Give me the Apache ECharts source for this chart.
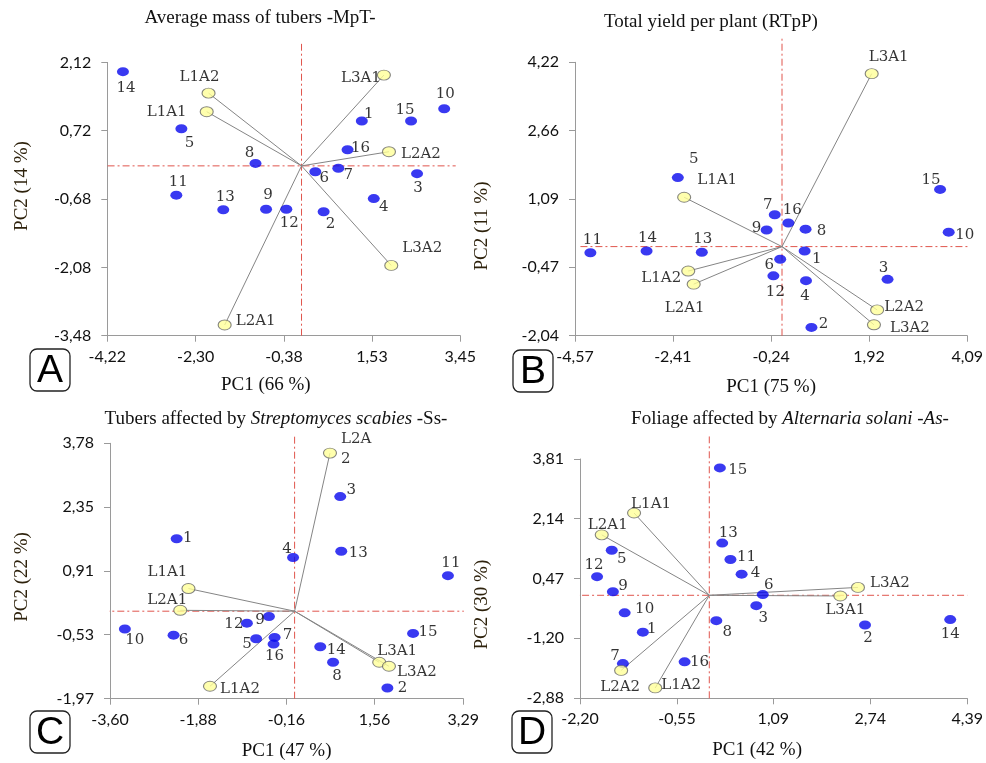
<!DOCTYPE html>
<html><head><meta charset="utf-8">
<script src="https://cdn.jsdelivr.net/npm/echarts@6/dist/echarts.min.js"></script>
<style>html,body{margin:0;padding:0;background:#fff}#c{width:986px;height:763px}</style>
</head><body><div id="c"></div>
<script>
// ---------- DATA ----------
const genotypes = ['1','2','3','4','5','6','7','8','9','10','11','12','13','14','15','16'];
const variables = ['L1A1','L1A2','L2A1','L2A2','L3A1','L3A2'];

// Panel A - Average mass of tubers
const xTicksA = ['-4,22','-2,30','-0,38','1,53','3,45'];
const yTicksA = ['2,12','0,72','-0,68','-2,08','-3,48'];
const pc1A = [1.31,0.48,2.51,1.57,-2.61,0.30,0.80,-1.00,-0.77,3.10,-2.72,-0.33,-1.70,-3.88,2.38,1.00];
const pc2A = [0.92,-0.94,-0.16,-0.67,0.76,-0.12,-0.05,0.05,-0.89,1.17,-0.60,-0.89,-0.90,1.93,0.92,0.33];
const vecXA = [-2.06,-2.02,-1.67,1.90,1.79,1.95];
const vecYA = [1.11,1.49,-3.26,0.29,1.86,-2.04];

// Panel B - Total yield per plant
const xTicksB = ['-4,57','-2,41','-0,24','1,92','4,09'];
const yTicksB = ['4,22','2,66','1,09','-0,47','-2,04'];
const pc1B = [0.50,0.65,2.33,0.53,-2.30,-0.04,-0.16,0.52,-0.34,3.68,-4.23,-0.19,-1.77,-2.99,3.49,0.14];
const pc2B = [-0.10,-1.85,-0.75,-0.78,1.58,-0.29,0.73,0.40,0.38,0.33,-0.14,-0.67,-0.13,-0.10,1.31,0.54];
const vecXB = [-2.16,-2.07,-1.95,2.10,1.98,2.03];
const vecYB = [1.13,-0.56,-0.86,-1.45,3.96,-1.79];

// Panel C - Streptomyces scabies
const xTicksC = ['-3,60','-1,88','-0,16','1,56','3,29'];
const yTicksC = ['3,78','2,35','0,91','-0,53','-1,97'];
const pc1C = [-2.30,1.81,0.89,-0.03,-0.75,-2.36,-0.39,0.75,-0.50,-3.31,2.99,-0.93,0.91,0.50,2.31,-0.41];
const pc2C = [1.63,-1.73,2.58,1.21,-0.62,-0.54,-0.59,-1.15,-0.12,-0.40,0.80,-0.27,1.35,-0.80,-0.50,-0.74];
const vecXC = [-2.07,-1.65,-2.23,0.69,1.65,1.84];
const vecYC = [0.51,-1.69,0.02,3.56,-1.15,-1.24];

// Panel D - Alternaria solani
const xTicksD = ['-2,20','-0,55','1,09','2,74','4,39'];
const yTicksD = ['3,81','2,14','0,47','-1,20','-2,88'];
const pc1D = [-1.13,2.65,0.80,0.55,-1.66,0.91,-1.47,0.12,-1.64,-1.44,0.36,-1.91,0.22,4.10,0.18,-0.42];
const pc2D = [-1.03,-0.83,-0.29,0.59,1.26,0.02,-1.91,-0.71,0.10,-0.49,1.00,0.52,1.46,-0.68,3.56,-1.86];
const vecXD = [-1.28,-0.92,-1.83,-1.50,2.23,2.53];
const vecYD = [2.30,-2.59,1.69,-2.10,-0.02,0.22];

// ---------- STYLE / LAYOUT ----------
const labelOffsets = [
 {'1':[7,-7],'2':[7,12],'3':[1,14],'4':[10,9],'5':[8,14],'6':[9,6],'7':[10,7],'8':[-6,-10],'9':[2,-14],'10':[1,-15],'11':[2,-13],'12':[3,14],'13':[2,-13],'14':[3,16],'15':[-6,-11],'16':[13,-2],'L1A1':[-40,0],'L1A2':[-9,-16],'L2A1':[31,-4],'L2A2':[32,2],'L3A1':[-23,3],'L3A2':[31,-17]},
 {'1':[12,8],'2':[12,-3],'3':[-4,-11],'4':[-1,15],'5':[16,-18],'6':[-11,6],'7':[-7,-10],'8':[16,2],'9':[-10,-2],'10':[16,3],'11':[2,-13],'12':[2,16],'13':[1,-13],'14':[1,-13],'15':[-9,-9],'16':[4,-13],'L1A1':[33,-17],'L1A2':[-27,7],'L2A1':[-9,24],'L2A2':[27,-3],'L3A1':[17,-17],'L3A2':[36,3]},
 {'1':[11,-1],'2':[15,0],'3':[11,-6],'4':[-6,-8],'5':[-9,5],'6':[10,5],'7':[13,-2],'8':[4,14],'9':[-9,4],'10':[10,11],'11':[3,-13],'12':[-13,1],'13':[17,2],'14':[16,3],'15':[15,-1],'16':[1,12],'L1A1':[-21,-16],'L1A2':[30,3],'L2A1':[-13,-10],'L2A2':[11,-4],'L3A1':[18,-11],'L3A2':[28,6]},
 {'1':[9,-3],'2':[3,13],'3':[7,12],'4':[14,-1],'5':[10,9],'6':[6,-9],'7':[-8,-7],'8':[11,11],'9':[10,-6],'10':[20,-4],'11':[16,-2],'12':[-3,-12],'13':[6,-10],'14':[0,15],'15':[18,2],'16':[15,0],'L1A1':[17,-9],'L1A2':[26,-3],'L2A1':[6,-10],'L2A2':[-1,17],'L3A1':[5,14],'L3A2':[32,-4]}
];
const labelOverrides = [{}, {}, {'L2A2': {formatter:'L2A\n2', align:'left', lineHeight:20}}, {}];

const panels = [
 {letter:'A', title:'{n|Average mass of tubers -MpT-}', titlePos:[260,18],
  grid:{left:107.3, top:62.4, width:353, height:273.3},
  xT:xTicksA, yT:yTicksA, pc1:pc1A, pc2:pc2A, vx:vecXA, vy:vecYA,
  xName:'PC1 (66 %)', yName:'PC2 (14 %)', xGap:40, xPad:[0,36,0,0], yGap:76, yPad:[0,0,0,26],
  refH:[-4.54,3.35], refV:[-3.48,2.50], box:[30,349]},
 {letter:'B', title:'{n|Total yield per plant (RTpP)}', titlePos:[711,22],
  grid:{left:575, top:62.3, width:397.3, height:273.4},
  xT:xTicksB, yT:yTicksB, pc1:pc1B, pc2:pc2B, vx:vecXB, vy:vecYB,
  xName:'PC1 (75 %)', yName:'PC2 (11 %)', xGap:42, xPad:[0,0,0,0], yGap:83, yPad:[0,54,0,0],
  refH:[-4.45,4.20], refV:[-2.04,4.78], box:[513,350]},
 {letter:'C', title:'{n|Tubers affected by }{i|Streptomyces scabies}{n| -Ss-}', titlePos:[276,419],
  grid:{left:110, top:443.3, width:353.3, height:255.4},
  xT:xTicksC, yT:yTicksC, pc1:pc1C, pc2:pc2C, vx:vecXC, vy:vecYC,
  xName:'PC1 (47 %)', yName:'PC2 (22 %)', xGap:43, xPad:[0,0,0,0], yGap:78, yPad:[0,12,0,0],
  refH:[-3.75,3.30], refV:[-1.97,3.95], box:[30,711]},
 {letter:'D', title:'{n|Foliage affected by }{i|Alternaria solani -As-}', titlePos:[790,419],
  grid:{left:580, top:459, width:388.3, height:239.3},
  xT:xTicksD, yT:yTicksD, pc1:pc1D, pc2:pc2D, vx:vecXD, vy:vecYD,
  xName:'PC1 (42 %)', yName:'PC2 (30 %)', xGap:42, xPad:[0,33,0,0], yGap:88, yPad:[0,52,0,0],
  refH:[-2.42,4.39], refV:[-2.88,4.44], box:[512,711]}
];

const toNum = s => parseFloat(s.replace(',', '.'));
const AXIS_GRAY = '#9a9a9a';
const SERIF = '"Liberation Serif", "Times New Roman", serif';
const LABEL_SERIF = '"DejaVu Serif", serif';
const SANS = 'Lato, "Open Sans", sans-serif';

function fmt(labels) {
  const vals = labels.map(toNum);
  return v => { let bi = 0, bd = Infinity; vals.forEach((x,i)=>{const d=Math.abs(x-v); if(d<bd){bd=d;bi=i;}}); return labels[bi]; };
}

const option = {animation:false, backgroundColor:'#fff', grid:[], xAxis:[], yAxis:[], series:[], graphic:[]};

panels.forEach((p, i) => {
  option.grid.push(Object.assign({containLabel:false}, p.grid));
  const xv = p.xT.map(toNum), yv = p.yT.map(toNum);
  option.xAxis.push({
    type:'value', gridIndex:i, min:Math.min(...xv), max:Math.max(...xv),
    axisLine:{show:true, onZero:false, lineStyle:{color:AXIS_GRAY, width:1}},
    axisTick:{show:true, customValues:xv, length:6, lineStyle:{color:AXIS_GRAY}},
    axisLabel:{customValues:xv, formatter:fmt(p.xT), fontFamily:SANS, fontSize:16, color:'#111', margin:13},
    splitLine:{show:false},
    name:p.xName, nameLocation:'middle', nameGap:p.xGap,
    nameTextStyle:{fontFamily:SERIF, fontSize:19, color:'#111', padding:p.xPad}
  });
  option.yAxis.push({
    type:'value', gridIndex:i, min:Math.min(...yv), max:Math.max(...yv),
    axisLine:{show:true, onZero:false, lineStyle:{color:AXIS_GRAY, width:1}},
    axisTick:{show:true, customValues:yv, length:6, lineStyle:{color:AXIS_GRAY}},
    axisLabel:{customValues:yv, formatter:fmt(p.yT), fontFamily:SANS, fontSize:16, color:'#111', margin:16},
    splitLine:{show:false},
    name:p.yName, nameLocation:'middle', nameGap:p.yGap,
    nameTextStyle:{fontFamily:SERIF, fontSize:19, color:'#2e220c', padding:p.yPad}
  });
  const ref = {color:'#e0554d', width:1, type:[7,3,2,3]};
  option.series.push({type:'line', xAxisIndex:i, yAxisIndex:i, clip:false, silent:true, symbol:'none', z:1,
    lineStyle:ref, data:[[p.refH[0],0],[p.refH[1],0]]});
  option.series.push({type:'line', xAxisIndex:i, yAxisIndex:i, clip:false, silent:true, symbol:'none', z:1,
    lineStyle:ref, data:[[0,p.refV[0]],[0,p.refV[1]]]});
  option.series.push({type:'lines', coordinateSystem:'cartesian2d', xAxisIndex:i, yAxisIndex:i, silent:true, z:2,
    lineStyle:{color:'#858585', width:1, opacity:1},
    data: variables.map((n,k)=>({coords:[[0,0],[p.vx[k],p.vy[k]]]}))});
  const lbl = {show:true, position:'inside', formatter:'{b}', fontFamily:LABEL_SERIF, fontSize:15, color:'#000', textBorderWidth:0};
  const mk = (n, x, y) => ({name:n, value:[x,y],
    label:Object.assign({offset:labelOffsets[i][n] || [0,-12]}, labelOverrides[i][n] || {})});
  option.series.push({type:'scatter', name:'Genotypes', xAxisIndex:i, yAxisIndex:i, z:3,
    symbol:'circle', symbolSize:[12,9], itemStyle:{color:'#0808ee'}, label:lbl,
    data: genotypes.map((g,k)=>mk(g, p.pc1[k], p.pc2[k]))});
  option.series.push({type:'scatter', name:'Variables', xAxisIndex:i, yAxisIndex:i, z:4,
    symbol:'circle', symbolSize:[13,10], itemStyle:{color:'#ffff99', borderColor:'#666', borderWidth:1}, label:lbl,
    data: variables.map((v,k)=>mk(v, p.vx[k], p.vy[k]))});

  option.graphic.push({type:'text', x:p.titlePos[0], y:p.titlePos[1], silent:true,
    style:{text:p.title, align:'center', verticalAlign:'middle',
      rich:{n:{fontFamily:SERIF, fontSize:19, fill:'#111'}, i:{fontFamily:SERIF, fontSize:19, fontStyle:'italic', fill:'#111'}}}});
  option.graphic.push({type:'group', x:p.box[0], y:p.box[1], silent:true, children:[
    {type:'rect', shape:{x:0, y:0, width:40, height:42, r:7}, style:{fill:'#fff', stroke:'#222', lineWidth:1.3}},
    {type:'text', x:20, y:22, style:{text:p.letter, align:'center', verticalAlign:'middle', fontFamily:'"Liberation Sans", Arial, sans-serif', fontSize:39, fill:'#000'}}
  ]});
});

const chart = echarts.init(document.getElementById('c'), null, {renderer:'canvas'});
chart.setOption(option);
</script>
</body></html>
